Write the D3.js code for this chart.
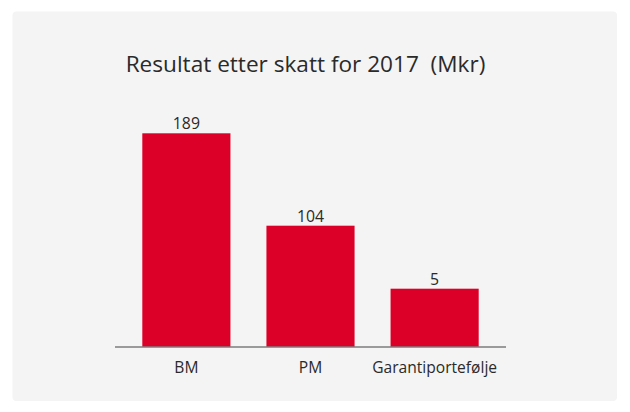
<!DOCTYPE html>
<html>
<head>
<meta charset="utf-8">
<script src="https://cdn.jsdelivr.net/npm/d3@7"></script>
<style>
    body { margin: 0; background: #fff; }
    svg { display: block; font-family: 'Open Sans', sans-serif; }
</style>
</head>
<body>
<svg class="main-chart" width="630" height="412"></svg>
<script>
const title = 'Resultat etter skatt for 2017  (Mkr)'
const categories = ['BM', 'PM', 'Garantiportefølje']
const values = [189, 104, 5]

const svg = d3.select('.main-chart')

// card background
svg.append('rect')
    .attr('x', 12.5)
    .attr('y', 11.5)
    .attr('width', 604.5)
    .attr('height', 389.5)
    .attr('rx', 4)
    .attr('fill', '#f4f4f4')

svg.append('text')
    .attr('x', 305.5)
    .attr('y', 72)
    .attr('text-anchor', 'middle')
    .style('white-space', 'pre')
    .style('font-size', '22.6px')
    .style('fill', '#2a2a2a')
    .text(title)

const baseline = 347
const xScale = d3.scaleBand()
    .domain(categories)
    .range([115, 506])
    .paddingInner(0.29)
    .paddingOuter(0.22)

// the original chart does not scale bars linearly, so use a piecewise scale
const yScale = d3.scaleLinear()
    .domain([0, 5, 104, 189])
    .range([baseline, 288.7, 225.7, 133.3])

const bars = svg.selectAll('g.bar')
    .data(categories)
    .enter().append('g')
    .attr('class', 'bar')

bars.append('rect')
    .attr('x', d => xScale(d))
    .attr('y', (d, i) => yScale(values[i]))
    .attr('width', xScale.bandwidth())
    .attr('height', (d, i) => baseline - yScale(values[i]))
    .attr('fill', '#dc0028')

bars.append('text')
    .attr('x', d => xScale(d) + xScale.bandwidth() / 2)
    .attr('y', (d, i) => yScale(values[i]) - 4)
    .attr('text-anchor', 'middle')
    .style('font-size', '15.8px')
    .style('fill', '#2a2a2a')
    .text((d, i) => values[i])

const axis = svg.append('g')
    .attr('transform', `translate(0,${baseline})`)
    .call(d3.axisBottom(xScale).tickSize(0).tickPadding(15))

axis.select('.domain')
    .attr('stroke', '#7d7d7d')
    .attr('stroke-width', 1.6)
    .attr('d', 'M115,0H506')

axis.selectAll('.tick text')
    .style('font-family', "'Open Sans', sans-serif")
    .style('font-size', '15.6px')
    .style('fill', '#2a2a2a')
</script>
</body>
</html>
